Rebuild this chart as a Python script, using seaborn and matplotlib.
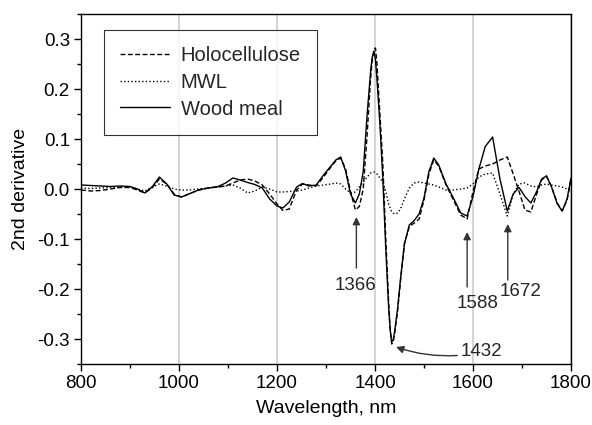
import numpy as np
import pandas as pd
import matplotlib
matplotlib.use("Agg")
import matplotlib.pyplot as plt
from matplotlib.ticker import MultipleLocator, FormatStrFormatter
import seaborn as sns

wavelength = [800, 820, 840, 860, 880, 900, 915, 930, 945, 960, 975, 990, 1005, 1020, 1040, 1060,
              1080, 1095, 1110, 1125, 1140, 1155, 1170, 1185, 1200, 1212, 1225, 1240, 1252, 1265,
              1280, 1295, 1310, 1320, 1330, 1340, 1350, 1360, 1368, 1376, 1384, 1391, 1394, 1398,
              1401, 1404, 1410, 1416, 1422, 1428, 1431, 1434, 1437, 1440, 1446, 1452, 1460, 1470,
              1480, 1490, 1500, 1510, 1520, 1530, 1545, 1560, 1575, 1588, 1600, 1612, 1625, 1640,
              1655, 1670, 1682, 1694, 1706, 1718, 1730, 1740, 1750, 1760, 1772, 1782, 1792, 1800]

wood_meal = [0.008, 0.007, 0.006, 0.005, 0.006, 0.005, 0.000, -0.008, 0.004, 0.024, 0.010, -0.012,
             -0.016, -0.010, -0.002, 0.002, 0.005, 0.012, 0.022, 0.018, 0.013, 0.009, 0.002, -0.020,
             -0.034, -0.038, -0.026, 0.004, 0.011, 0.006, 0.008, 0.028, 0.046, 0.058, 0.064, 0.036,
             -0.010, -0.028, -0.010, 0.035, 0.150, 0.235, 0.262, 0.276, 0.258, 0.220, 0.130, 0.020,
             -0.120, -0.240, -0.282, -0.306, -0.302, -0.285, -0.240, -0.180, -0.110, -0.072,
             -0.063, -0.050, -0.018, 0.035, 0.062, 0.048, 0.010, -0.018, -0.048, -0.054, -0.015,
             0.040, 0.085, 0.104, 0.020, -0.044, -0.010, 0.003, -0.015, -0.028, -0.005, 0.020,
             0.026, 0.005, -0.030, -0.044, -0.020, 0.022]

holocellulose = [-0.002, -0.004, -0.003, 0.000, 0.003, 0.003, -0.002, -0.008, 0.002, 0.020, 0.010,
                 -0.010, -0.016, -0.010, -0.002, 0.002, 0.004, 0.006, 0.012, 0.018, 0.020, 0.016,
                 0.008, -0.010, -0.030, -0.043, -0.040, -0.002, 0.010, 0.008, 0.006, 0.024, 0.044,
                 0.056, 0.062, 0.040, -0.005, -0.042, -0.035, 0.000, 0.110, 0.220, 0.255, 0.280,
                 0.282, 0.250, 0.150, 0.050, -0.100, -0.230, -0.280, -0.310, -0.306, -0.290,
                 -0.245, -0.185, -0.110, -0.075, -0.068, -0.060, -0.022, 0.030, 0.058, 0.046,
                 0.008, -0.022, -0.052, -0.060, -0.005, 0.040, 0.046, 0.050, 0.058, 0.064, 0.030,
                 -0.005, -0.042, -0.046, -0.010, 0.018, 0.026, 0.005, -0.028, -0.044, -0.022, 0.020]

mwl = [0.002, 0.001, 0.002, 0.003, 0.004, 0.004, 0.000, -0.004, 0.004, 0.010, 0.006, 0.000, -0.002,
       -0.002, 0.000, 0.002, 0.004, 0.006, 0.008, 0.002, -0.008, -0.004, 0.004, 0.000, -0.006,
       -0.006, -0.005, -0.004, -0.002, 0.002, 0.006, 0.008, 0.010, 0.012, 0.010, 0.000, -0.008,
       -0.006, 0.004, 0.014, 0.024, 0.032, 0.033, 0.034, 0.033, 0.030, 0.022, 0.014, -0.005,
       -0.030, -0.038, -0.045, -0.048, -0.050, -0.048, -0.040, -0.020, 0.002, 0.012, 0.014,
       0.012, 0.010, 0.008, 0.004, -0.002, -0.002, 0.000, 0.002, 0.010, 0.024, 0.030, 0.032,
       -0.010, -0.054, -0.010, 0.010, 0.012, 0.006, 0.004, 0.008, 0.010, 0.008, 0.006, 0.004,
       0.000, -0.002]

peak_labels = ["1366", "1432", "1588", "1672"]

sns.set_theme(style="white")
plt.rcParams["font.family"] = ["Liberation Sans", "DejaVu Sans"]
plt.rcParams["axes.unicode_minus"] = False

fig = plt.figure(figsize=(5.92, 4.25), dpi=100)
ax = fig.add_axes([81 / 592, 61 / 425, 490 / 592, 350 / 425])

series = [("Holocellulose", holocellulose, (0, (3.5, 1.8))),
          ("MWL", mwl, (0, (1, 1.6))),
          ("Wood meal", wood_meal, "-")]
for name, vals, ls in series:
    df = pd.DataFrame({"Wavelength": wavelength, "value": vals})
    sns.lineplot(data=df, x="Wavelength", y="value", ax=ax, color="black",
                 linewidth=1.0, linestyle=ls, label=name, estimator=None, sort=False)

ax.set_xlim(800, 1800)
ax.set_ylim(-0.35, 0.35)
ax.xaxis.set_major_locator(MultipleLocator(200))
ax.xaxis.set_minor_locator(MultipleLocator(100))
ax.yaxis.set_major_locator(MultipleLocator(0.1))
ax.yaxis.set_minor_locator(MultipleLocator(0.05))
ax.yaxis.set_major_formatter(FormatStrFormatter("%.1f"))
ax.grid(axis="x", which="major", color="#d4d4d4", linewidth=1.5)
ax.grid(axis="y", visible=False)
ax.set_axisbelow(True)
for s in ax.spines.values():
    s.set_color("black")
    s.set_linewidth(1.0)
ax.tick_params(which="both", direction="out", bottom=True, left=True, top=False, right=False,
               color="black", width=1.0)
ax.tick_params(which="major", length=5, labelsize=13.5, pad=3, labelcolor="black")
ax.tick_params(which="minor", length=3)
ax.set_xlabel("Wavelength, nm", fontsize=14, color="black", labelpad=6)
ax.set_ylabel("2nd derivative", fontsize=14, color="black", labelpad=6)

leg = ax.legend(loc="upper left", bbox_to_anchor=(0.047, 0.954), fontsize=14.5, frameon=True,
                fancybox=False, edgecolor="black", handlelength=2.5, handletextpad=0.5,
                labelspacing=0.38, borderpad=0.8, borderaxespad=0)
leg.get_frame().set_linewidth(0.8)

arrow_kw = dict(arrowstyle="-|>", color="#333333", lw=1.0, mutation_scale=11, shrinkA=0, shrinkB=0)
# 1366
ax.annotate("", xy=(1362, -0.056), xytext=(1362, -0.158), arrowprops=arrow_kw)
ax.text(1360, -0.192, peak_labels[0], fontsize=13.5, ha="center", va="center")
# 1588
ax.annotate("", xy=(1588, -0.086), xytext=(1588, -0.196), arrowprops=arrow_kw)
ax.text(1610, -0.228, peak_labels[2], fontsize=13.5, ha="center", va="center")
# 1672
ax.annotate("", xy=(1671, -0.070), xytext=(1671, -0.182), arrowprops=arrow_kw)
ax.text(1698, -0.204, peak_labels[3], fontsize=13.5, ha="center", va="center")
# 1432 curved
ax.annotate("", xy=(1443, -0.316), xytext=(1568, -0.333),
            arrowprops=dict(arrow_kw, connectionstyle="arc3,rad=-0.1"))
ax.text(1574, -0.325, peak_labels[1], fontsize=13.5, ha="left", va="center")

fig.savefig("out.png", dpi=100)
